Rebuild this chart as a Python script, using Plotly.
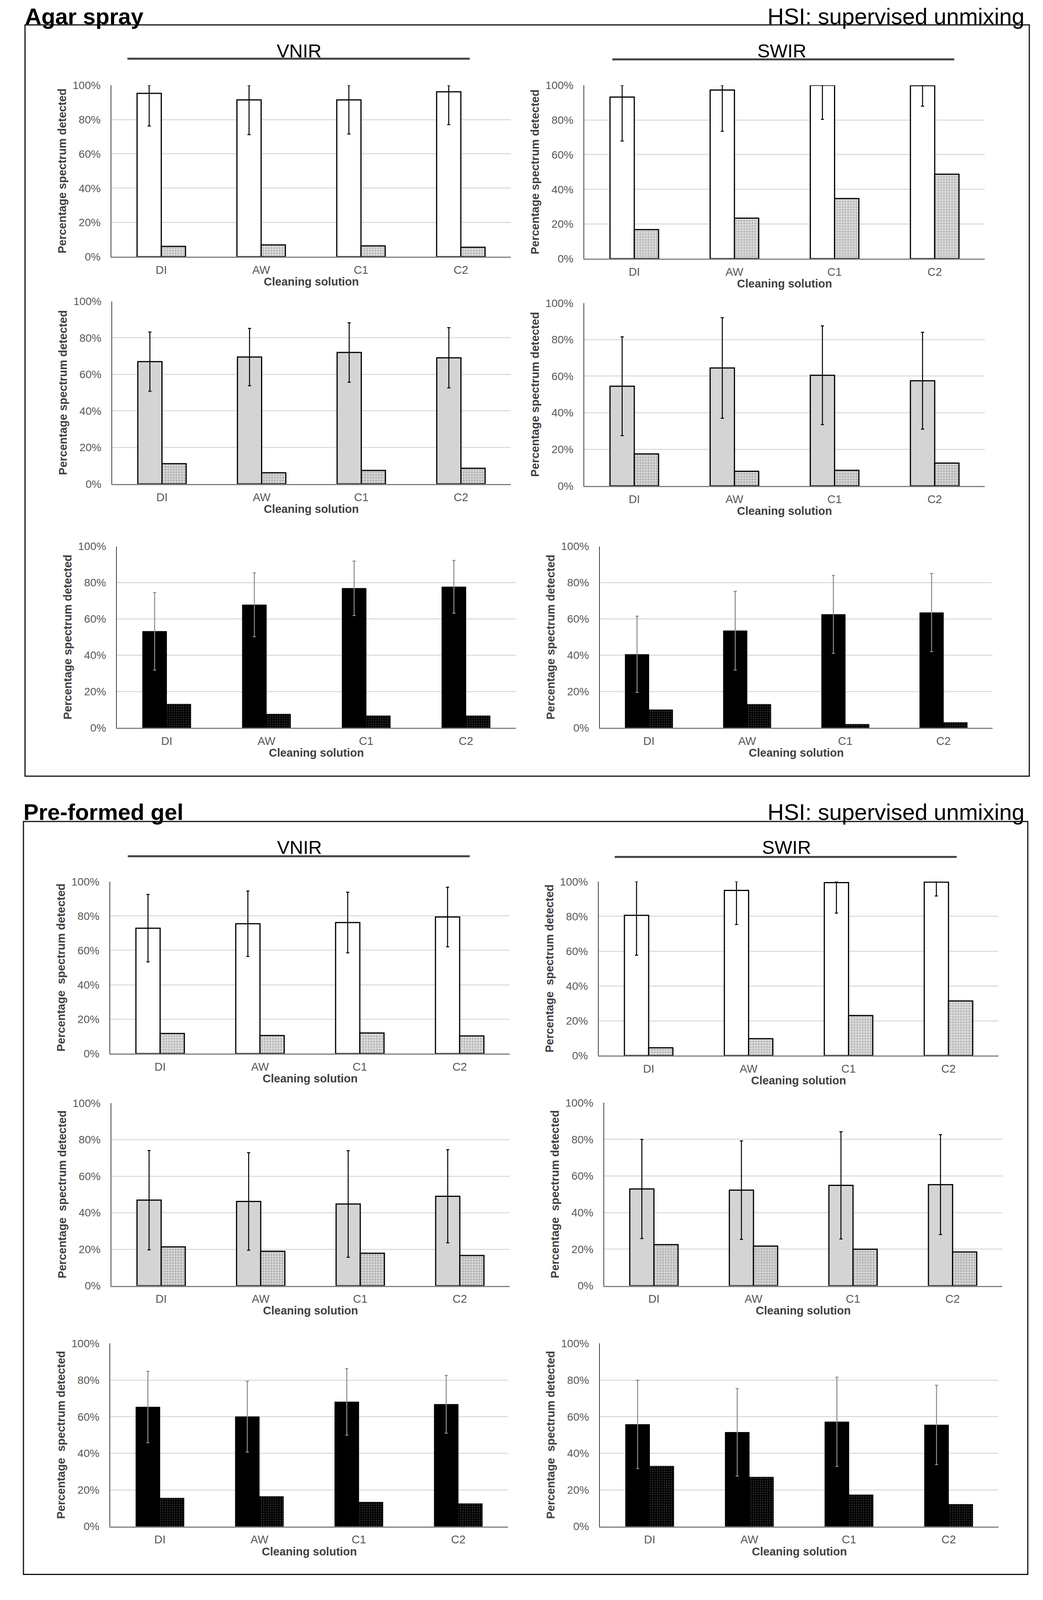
import plotly.graph_objects as go

W, H = 2669, 4836  # design frame of the reference (pixels)

categories = ["DI", "AW", "C1", "C2"]

# ---------------- Agar spray ----------------
agar_vnir_row1 = [95.3, 91.5, 91.5, 96.2]
agar_vnir_row1_sd = [19.0, 20.3, 19.9, 19.1]
agar_vnir_row1_b = [6.0, 6.9, 6.3, 5.5]

agar_swir_row1 = [93.2, 97.3, 100.0, 99.8]
agar_swir_row1_sd = [25.3, 23.8, 19.6, 11.8]
agar_swir_row1_b = [16.8, 23.4, 34.7, 48.7]

agar_vnir_row2 = [67.0, 69.5, 72.0, 69.1]
agar_vnir_row2_sd = [16.2, 15.7, 16.3, 16.5]
agar_vnir_row2_b = [11.1, 6.1, 7.4, 8.6]

agar_swir_row2 = [54.5, 64.5, 60.5, 57.5]
agar_swir_row2_sd = [27.0, 27.5, 27.0, 26.5]
agar_swir_row2_b = [17.5, 8.0, 8.5, 12.5]

agar_vnir_row3 = [53.2, 67.8, 76.9, 77.7]
agar_vnir_row3_sd = [21.3, 17.6, 15.0, 14.5]
agar_vnir_row3_b = [13.1, 7.6, 6.7, 6.7]

agar_swir_row3 = [40.5, 53.5, 62.5, 63.5]
agar_swir_row3_sd = [21.0, 21.7, 21.5, 21.5]
agar_swir_row3_b = [10.0, 13.0, 2.0, 3.0]

# ---------------- Pre-formed gel ----------------
gel_vnir_row1 = [72.9, 75.5, 76.2, 79.4]
gel_vnir_row1_sd = [19.6, 19.0, 17.6, 17.3]
gel_vnir_row1_b = [11.7, 10.5, 12.0, 10.3]

gel_swir_row1 = [80.6, 94.9, 99.4, 99.7]
gel_swir_row1_sd = [22.9, 19.6, 17.5, 8.0]
gel_swir_row1_b = [4.5, 9.7, 23.0, 31.4]

gel_vnir_row2 = [46.9, 46.2, 44.8, 49.0]
gel_vnir_row2_sd = [27.2, 26.7, 29.2, 25.5]
gel_vnir_row2_b = [21.3, 18.9, 17.8, 16.6]

gel_swir_row2 = [52.9, 52.3, 54.9, 55.3]
gel_swir_row2_sd = [27.1, 26.9, 29.3, 27.3]
gel_swir_row2_b = [22.5, 21.7, 20.0, 18.5]

gel_vnir_row3 = [65.3, 60.0, 68.1, 66.8]
gel_vnir_row3_sd = [19.5, 19.4, 18.2, 15.8]
gel_vnir_row3_b = [15.5, 16.4, 13.3, 12.5]

gel_swir_row3 = [55.8, 51.5, 57.2, 55.5]
gel_swir_row3_sd = [24.2, 23.9, 24.4, 21.7]
gel_swir_row3_b = [33.0, 27.0, 17.3, 12.1]

y_ticks = [0, 20, 40, 60, 80, 100]
y_tick_labels = ["0%", "20%", "40%", "60%", "80%", "100%"]

section_titles = ["Agar spray", "Pre-formed gel"]
method_title = "HSI: supervised unmixing"
sensor_titles = ["VNIR", "SWIR"]
x_title = "Cleaning solution"
y_title_top = "Percentage spectrum detected"
y_title_bottom = "Percentage\u00a0 spectrum detected"

# panel layout in design pixels: (x0, x1, y_top(100%), y_bottom(0%))
panels = [
    (agar_vnir_row1, agar_vnir_row1_sd, agar_vnir_row1_b, "white", (285, 1307, 242, 764), y_title_top),
    (agar_swir_row1, agar_swir_row1_sd, agar_swir_row1_b, "white", (1495, 2520, 242, 770), y_title_top),
    (agar_vnir_row2, agar_vnir_row2_sd, agar_vnir_row2_b, "grey", (287, 1307, 900, 1456), y_title_top),
    (agar_swir_row2, agar_swir_row2_sd, agar_swir_row2_b, "grey", (1495, 2520, 905, 1462), y_title_top),
    (agar_vnir_row3, agar_vnir_row3_sd, agar_vnir_row3_b, "black", (299, 1320, 1646, 2199), y_title_top),
    (agar_swir_row3, agar_swir_row3_sd, agar_swir_row3_b, "black", (1535, 2540, 1646, 2199), y_title_top),
    (gel_vnir_row1, gel_vnir_row1_sd, gel_vnir_row1_b, "white", (282, 1304, 2667, 3191), y_title_bottom),
    (gel_swir_row1, gel_swir_row1_sd, gel_swir_row1_b, "white", (1532, 2555, 2667, 3197), y_title_bottom),
    (gel_vnir_row2, gel_vnir_row2_sd, gel_vnir_row2_b, "grey", (285, 1304, 3342, 3898), y_title_bottom),
    (gel_swir_row2, gel_swir_row2_sd, gel_swir_row2_b, "grey", (1546, 2565, 3341, 3898), y_title_bottom),
    (gel_vnir_row3, gel_vnir_row3_sd, gel_vnir_row3_b, "black", (282, 1300, 4074, 4631), y_title_bottom),
    (gel_swir_row3, gel_swir_row3_sd, gel_swir_row3_b, "black", (1535, 2555, 4074, 4631), y_title_bottom),
]

FONT = "Liberation Sans, Arial, sans-serif"

styles = {
    "white": dict(fill="#ffffff", line="#000000", lw=3, err="#000000",
                  pat=dict(shape=".", bgcolor="#dcdcdc", fgcolor="#8c8c8c", size=7, solidity=0.4),
                  pline="#000000", plw=3),
    "grey": dict(fill="#d4d4d4", line="#000000", lw=3, err="#000000",
                 pat=dict(shape=".", bgcolor="#d6d6d6", fgcolor="#858585", size=7, solidity=0.4),
                 pline="#000000", plw=3),
    "black": dict(fill="#000000", line="#000000", lw=1, err="#8a8a8a",
                  pat=dict(shape=".", bgcolor="#000000", fgcolor="#8a8a8a", size=6, solidity=0.22),
                  pline="#000000", plw=1),
}


def px_x(x):
    return x / W


def px_y(y):
    return 1 - y / H


fig = go.Figure()
layout = dict(
    autosize=True, margin=dict(l=0, r=0, t=0, b=0, pad=0),
    paper_bgcolor="white", plot_bgcolor="white", showlegend=False,
    barmode="group", bargap=0.515, bargroupgap=0,
    font=dict(family=FONT, color="#595959"),
)
annotations = []
shapes = []

for i, (main, sd, second, style, box, ytitle) in enumerate(panels, start=1):
    st = styles[style]
    x0, x1, yt, yb = box
    xname = "x" if i == 1 else f"x{i}"
    yname = "y" if i == 1 else f"y{i}"
    upper = [min(s, 100 - m) for m, s in zip(main, sd)]
    fig.add_trace(go.Bar(
        x=categories, y=main, xaxis=xname, yaxis=yname, name="main",
        marker=dict(color=st["fill"], line=dict(color=st["line"], width=st["lw"])),
        error_y=dict(type="data", symmetric=False, array=upper, arrayminus=sd,
                     color=st["err"], thickness=2.5, width=4),
    ))
    fig.add_trace(go.Bar(
        x=categories, y=second, xaxis=xname, yaxis=yname, name="second",
        marker=dict(color=st["pat"]["bgcolor"], pattern=st["pat"],
                    line=dict(color=st["pline"], width=st["plw"])),
    ))
    xa = "xaxis" if i == 1 else f"xaxis{i}"
    ya = "yaxis" if i == 1 else f"yaxis{i}"
    layout[xa] = dict(
        domain=[px_x(x0), px_x(x1)], anchor=yname, type="category",
        categoryorder="array", categoryarray=categories,
        showline=True, linecolor="#808080", linewidth=3, showgrid=False,
        ticks="", tickfont=dict(size=29, color="#595959", family=FONT),
        ticklabelstandoff=6, fixedrange=True,
    )
    layout[ya] = dict(
        domain=[px_y(yb), px_y(yt)], anchor=xname, range=[0, 100],
        tickmode="array", tickvals=y_ticks, ticktext=y_tick_labels,
        showgrid=True, gridcolor="#dedede",
        gridwidth=3, showline=True, linecolor="#404040", linewidth=2,
        zeroline=False, ticks="", tickfont=dict(size=28, color="#595959", family=FONT),
        ticklabelstandoff=20, fixedrange=True,
    )
    annotations.append(dict(
        text=ytitle, xref="paper", yref="paper", x=px_x(x0 - 126), y=px_y((yt + yb) / 2),
        xanchor="center", yanchor="middle", textangle=-90, showarrow=False,
        font=dict(size=29, color="#404040", family=FONT, weight="bold"),
    ))
    annotations.append(dict(
        text=x_title, xref="paper", yref="paper", x=px_x((x0 + x1) / 2), y=px_y(yb + 76),
        xanchor="center", yanchor="middle", showarrow=False,
        font=dict(size=29, color="#404040", family=FONT, weight="bold"),
    ))

# section frames and headers
sections = [
    dict(title=section_titles[0], box=(64, 2634, 58, 2346), head_bottom=72,
         sens=[(765, 137, 326, 1202, 161), (2000, 137, 1567, 2442, 163)]),
    dict(title=section_titles[1], box=(60, 2630, 2484, 4777), head_bottom=2496,
         sens=[(766, 2563, 327, 1202, 2590), (2012, 2563, 1573, 2448, 2592)]),
]
for sec in sections:
    bx0, bx1, by0, by1 = sec["box"]
    shapes.append(dict(type="rect", xref="paper", yref="paper",
                       x0=px_x(bx0), x1=px_x(bx1), y0=px_y(by1), y1=px_y(by0),
                       line=dict(color="#111111", width=3), fillcolor="rgba(0,0,0,0)"))
    annotations.append(dict(
        text=sec["title"], xref="paper", yref="paper", x=px_x(bx0 - 2), y=px_y(sec["head_bottom"]),
        xanchor="left", yanchor="bottom", showarrow=False,
        font=dict(size=58, color="#000000", family=FONT, weight="bold"),
    ))
    annotations.append(dict(
        text=method_title, xref="paper", yref="paper", x=px_x(2624), y=px_y(sec["head_bottom"]),
        xanchor="right", yanchor="bottom", showarrow=False,
        font=dict(size=58, color="#000000", family=FONT),
    ))
    for name, (cx, cy, lx0, lx1, ly) in zip(sensor_titles, sec["sens"]):
        annotations.append(dict(
            text=name, xref="paper", yref="paper", x=px_x(cx), y=px_y(cy),
            xanchor="center", yanchor="middle", showarrow=False,
            font=dict(size=48, color="#000000", family=FONT),
        ))
        shapes.append(dict(type="line", xref="paper", yref="paper",
                           x0=px_x(lx0), x1=px_x(lx1), y0=px_y(ly), y1=px_y(ly),
                           line=dict(color="#404040", width=5)))

layout["annotations"] = annotations
layout["shapes"] = shapes
fig.update_layout(**layout)
fig.write_html(
    "out.html",
    default_width="100vw",
    default_height="100vh",
    config={"responsive": True, "displayModeBar": False},
    post_script="document.body.style.margin='0px';document.body.style.overflow='hidden';",
)
